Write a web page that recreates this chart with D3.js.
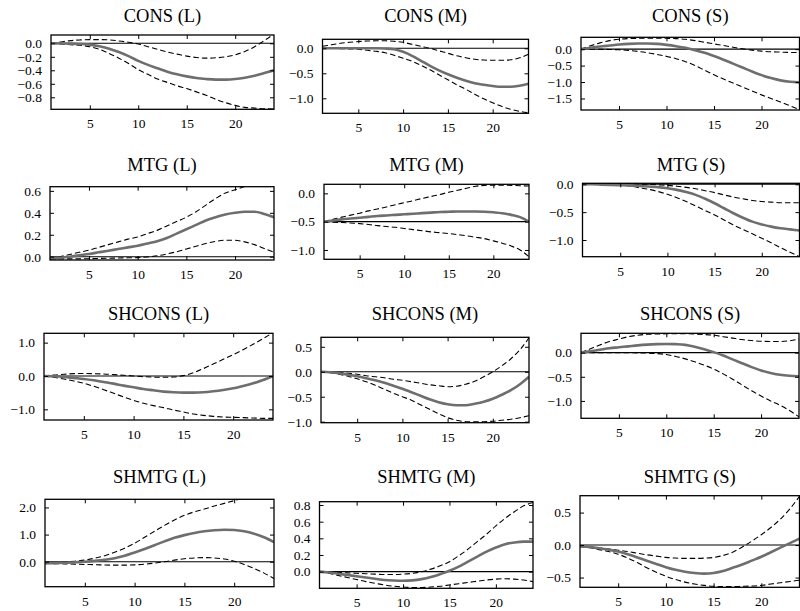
<!DOCTYPE html>
<html><head><meta charset="utf-8">
<script src="https://cdn.jsdelivr.net/npm/d3@7/dist/d3.min.js"></script>
<style>body{margin:0;background:#fff}svg{display:block}</style>
</head><body>
<svg id="c" width="800" height="611"></svg>
<script>
// ---------- data ----------
const horizon = d3.range(1, 25);            // 1..24
const xTickValues = [5, 10, 15, 20];
const titles = ["CONS (L)","CONS (M)","CONS (S)","MTG (L)","MTG (M)","MTG (S)",
                "SHCONS (L)","SHCONS (M)","SHCONS (S)","SHMTG (L)","SHMTG (M)","SHMTG (S)"];

const medConsL = [0,-0.002,-0.005,-0.01,-0.02,-0.045,-0.08,-0.13,-0.19,-0.26,-0.32,-0.37,-0.42,-0.46,-0.49,-0.515,-0.53,-0.538,-0.538,-0.53,-0.51,-0.48,-0.44,-0.40];
const hiConsL  = [0,0.02,0.04,0.05,0.055,0.055,0.05,0.035,0.015,-0.01,-0.05,-0.09,-0.13,-0.16,-0.19,-0.21,-0.22,-0.215,-0.2,-0.17,-0.12,-0.05,0.04,0.14];
const loConsL  = [0,-0.01,-0.02,-0.03,-0.05,-0.09,-0.15,-0.22,-0.30,-0.39,-0.46,-0.53,-0.58,-0.63,-0.67,-0.72,-0.77,-0.83,-0.88,-0.92,-0.95,-0.96,-0.97,-0.975];

const medConsM = [0,0,0,0,0,0,0,-0.005,-0.02,-0.07,-0.15,-0.25,-0.35,-0.44,-0.52,-0.59,-0.65,-0.70,-0.73,-0.755,-0.77,-0.77,-0.75,-0.71];
const hiConsM  = [0.04,0.07,0.1,0.12,0.135,0.145,0.15,0.15,0.14,0.12,0.08,0.04,0.0,-0.05,-0.10,-0.15,-0.19,-0.22,-0.235,-0.24,-0.24,-0.23,-0.19,-0.12];
const loConsM  = [0,-0.003,-0.007,-0.012,-0.02,-0.04,-0.06,-0.09,-0.14,-0.2,-0.26,-0.34,-0.43,-0.53,-0.63,-0.73,-0.82,-0.92,-1.01,-1.09,-1.16,-1.22,-1.26,-1.29];

const medConsS = [0,0.04,0.08,0.11,0.14,0.16,0.17,0.17,0.16,0.13,0.09,0.04,-0.03,-0.11,-0.21,-0.32,-0.44,-0.56,-0.68,-0.79,-0.88,-0.95,-0.99,-1.01];
const hiConsS  = [0,0.1,0.19,0.26,0.3,0.32,0.33,0.335,0.335,0.33,0.32,0.3,0.26,0.21,0.16,0.11,0.06,0.01,-0.03,-0.06,-0.08,-0.09,-0.1,-0.1];
const loConsS  = [0,0,-0.005,-0.01,-0.02,-0.04,-0.07,-0.11,-0.16,-0.22,-0.29,-0.38,-0.5,-0.64,-0.78,-0.91,-1.03,-1.15,-1.27,-1.39,-1.5,-1.61,-1.72,-1.84];

const medMtgL = [-0.02,-0.01,0.0,0.012,0.025,0.04,0.055,0.07,0.085,0.1,0.12,0.14,0.17,0.21,0.25,0.29,0.33,0.36,0.385,0.40,0.41,0.41,0.39,0.36];
const hiMtgL  = [-0.02,0.0,0.02,0.04,0.06,0.085,0.11,0.135,0.16,0.18,0.21,0.24,0.28,0.32,0.36,0.41,0.47,0.53,0.58,0.61,0.64,0.66,0.67,0.67];
const loMtgL  = [-0.02,-0.02,-0.02,-0.02,-0.018,-0.016,-0.014,-0.012,-0.01,-0.008,-0.002,0.008,0.025,0.045,0.07,0.095,0.12,0.14,0.15,0.15,0.135,0.11,0.075,0.04];

const medMtgM = [-0.5,-0.48,-0.46,-0.445,-0.43,-0.415,-0.40,-0.39,-0.38,-0.37,-0.36,-0.35,-0.34,-0.33,-0.325,-0.32,-0.32,-0.32,-0.325,-0.335,-0.35,-0.38,-0.42,-0.5];
const hiMtgM  = [-0.5,-0.46,-0.42,-0.385,-0.35,-0.31,-0.275,-0.24,-0.2,-0.165,-0.13,-0.09,-0.055,-0.02,0.02,0.055,0.09,0.125,0.14,0.145,0.145,0.14,0.135,0.13];
const loMtgM  = [-0.5,-0.51,-0.515,-0.525,-0.535,-0.55,-0.57,-0.585,-0.6,-0.62,-0.64,-0.66,-0.68,-0.695,-0.71,-0.73,-0.75,-0.775,-0.8,-0.84,-0.88,-0.93,-1.0,-1.12];

const medMtgS = [0,0,-0.005,-0.01,-0.015,-0.02,-0.03,-0.04,-0.05,-0.07,-0.1,-0.14,-0.19,-0.26,-0.34,-0.43,-0.52,-0.6,-0.67,-0.72,-0.76,-0.79,-0.81,-0.83];
const hiMtgS  = [0,0.01,0.01,0.01,0.01,0.01,0.005,0.0,-0.01,-0.02,-0.035,-0.055,-0.08,-0.115,-0.15,-0.19,-0.23,-0.26,-0.29,-0.31,-0.32,-0.33,-0.33,-0.33];
const loMtgS  = [0,-0.002,-0.005,-0.008,-0.012,-0.03,-0.06,-0.09,-0.13,-0.18,-0.24,-0.31,-0.39,-0.47,-0.55,-0.64,-0.73,-0.81,-0.89,-0.97,-1.05,-1.14,-1.22,-1.3];

const medShconsL = [0,-0.01,-0.03,-0.06,-0.09,-0.13,-0.18,-0.23,-0.29,-0.34,-0.39,-0.43,-0.47,-0.49,-0.5,-0.5,-0.49,-0.46,-0.42,-0.37,-0.3,-0.22,-0.12,0.0];
const hiShconsL  = [0,0.03,0.05,0.07,0.075,0.07,0.06,0.04,0.02,0.0,-0.02,-0.035,-0.04,-0.03,0.01,0.1,0.22,0.36,0.5,0.64,0.79,0.95,1.12,1.3];
const loShconsL  = [0,-0.04,-0.09,-0.15,-0.22,-0.31,-0.41,-0.52,-0.63,-0.73,-0.82,-0.89,-0.95,-1.02,-1.08,-1.14,-1.18,-1.21,-1.23,-1.24,-1.25,-1.26,-1.27,-1.27];

const medShconsM = [0,-0.01,-0.03,-0.06,-0.09,-0.13,-0.17,-0.22,-0.28,-0.34,-0.41,-0.48,-0.55,-0.61,-0.65,-0.67,-0.67,-0.64,-0.6,-0.54,-0.46,-0.37,-0.25,-0.1];
const hiShconsM  = [0,-0.005,-0.015,-0.03,-0.05,-0.08,-0.1,-0.12,-0.15,-0.17,-0.2,-0.23,-0.26,-0.28,-0.3,-0.29,-0.25,-0.19,-0.1,0.0,0.12,0.26,0.44,0.68];
const loShconsM  = [0,-0.02,-0.05,-0.09,-0.14,-0.2,-0.27,-0.35,-0.43,-0.5,-0.57,-0.66,-0.75,-0.84,-0.92,-0.97,-1.0,-1.0,-1.0,-0.99,-0.97,-0.95,-0.92,-0.88];

const medShconsS = [0,0.03,0.06,0.09,0.11,0.13,0.15,0.165,0.175,0.18,0.175,0.16,0.12,0.07,0.01,-0.06,-0.14,-0.22,-0.3,-0.37,-0.42,-0.46,-0.48,-0.49];
const hiShconsS  = [0,0.08,0.16,0.23,0.28,0.33,0.36,0.38,0.385,0.39,0.39,0.39,0.385,0.375,0.36,0.33,0.3,0.27,0.25,0.235,0.23,0.23,0.245,0.28];
const loShconsS  = [0,0,0,0,0,-0.002,-0.005,-0.01,-0.02,-0.04,-0.08,-0.13,-0.19,-0.26,-0.34,-0.44,-0.55,-0.67,-0.79,-0.9,-1.0,-1.09,-1.2,-1.33];

const medShmtgL = [-0.06,-0.05,-0.04,-0.02,0.0,0.03,0.07,0.13,0.22,0.34,0.47,0.61,0.75,0.88,0.98,1.06,1.12,1.16,1.18,1.17,1.12,1.03,0.9,0.72];
const hiShmtgL  = [-0.06,-0.04,-0.01,0.02,0.06,0.13,0.22,0.35,0.5,0.68,0.9,1.12,1.34,1.54,1.71,1.84,1.94,2.05,2.15,2.25,2.35,2.45,2.55,2.65];
const loShmtgL  = [-0.06,-0.07,-0.08,-0.09,-0.1,-0.11,-0.12,-0.125,-0.125,-0.115,-0.09,-0.05,0.0,0.06,0.11,0.14,0.15,0.14,0.1,0.02,-0.1,-0.25,-0.42,-0.62];

const medShmtgM = [0,-0.01,-0.025,-0.04,-0.055,-0.07,-0.085,-0.1,-0.107,-0.11,-0.105,-0.09,-0.065,-0.03,0.01,0.06,0.12,0.18,0.24,0.29,0.33,0.35,0.36,0.36];
const hiShmtgM  = [0,-0.005,-0.01,-0.015,-0.02,-0.025,-0.03,-0.035,-0.035,-0.03,-0.02,0.0,0.03,0.07,0.12,0.19,0.27,0.36,0.45,0.55,0.64,0.72,0.79,0.83];
const loShmtgM  = [0,-0.02,-0.045,-0.07,-0.095,-0.12,-0.14,-0.16,-0.175,-0.185,-0.19,-0.19,-0.185,-0.175,-0.16,-0.145,-0.13,-0.115,-0.1,-0.09,-0.085,-0.09,-0.1,-0.12];

const medShmtgS = [-0.02,-0.03,-0.05,-0.07,-0.1,-0.14,-0.19,-0.24,-0.29,-0.34,-0.38,-0.41,-0.43,-0.44,-0.43,-0.4,-0.35,-0.3,-0.24,-0.18,-0.11,-0.04,0.03,0.1];
const hiShmtgS  = [-0.02,-0.03,-0.045,-0.06,-0.08,-0.1,-0.125,-0.15,-0.17,-0.19,-0.2,-0.205,-0.205,-0.2,-0.19,-0.16,-0.11,-0.03,0.06,0.16,0.27,0.4,0.56,0.75];
const loShmtgS  = [-0.02,-0.04,-0.07,-0.1,-0.14,-0.2,-0.27,-0.35,-0.42,-0.48,-0.53,-0.57,-0.6,-0.62,-0.635,-0.64,-0.64,-0.635,-0.63,-0.62,-0.6,-0.58,-0.56,-0.54];

const yTicks = [[0,-0.2,-0.4,-0.6,-0.8],[0,-0.5,-1],[0,-0.5,-1,-1.5],
                [0,0.2,0.4,0.6],[0,-0.5,-1],[0,-0.5,-1],
                [1,0,-1],[0.5,0,-0.5,-1],[0,-0.5,-1],
                [2,1,0],[0.8,0.6,0.4,0.2,0],[0.5,0,-0.5]];
const refValues = [0,0,0, 0,-0.5,0, 0,0,0, 0,0,0];

// ---------- layout (positions / scale domains) ----------
const boxes = [[51,274,35,109.3],[322.5,528.5,39.3,113.3],[581,799.5,37.3,110],
               [50,274,186.7,260],[324,529,184.3,259.3],[582.5,799.5,183.3,256.7],
               [44,273,333.3,420],[321,529,337.3,422.7],[581,799,333.3,418.3],
               [45,274,499.3,586.7],[319.5,533,501.7,588.3],[580,799.5,495.7,587.3]];
const yDomains = [[-0.978,0.123],[-1.3,0.18],[-1.85,0.36],
                  [-0.03,0.638],[-1.165,0.16],[-1.30,0.018],
                  [-1.32,1.28],[-1.02,0.69],[-1.36,0.40],
                  [-0.92,2.3],[-0.2,0.84],[-0.65,0.76]];
const titleY = [16,16,16,165,165,165,314,314,314,477,477,477];

const series = [
  [medConsL,hiConsL,loConsL],[medConsM,hiConsM,loConsM],[medConsS,hiConsS,loConsS],
  [medMtgL,hiMtgL,loMtgL],[medMtgM,hiMtgM,loMtgM],[medMtgS,hiMtgS,loMtgS],
  [medShconsL,hiShconsL,loShconsL],[medShconsM,hiShconsM,loShconsM],[medShconsS,hiShconsS,loShconsS],
  [medShmtgL,hiShmtgL,loShmtgL],[medShmtgM,hiShmtgM,loShmtgM],[medShmtgS,hiShmtgS,loShmtgS]
];

const FONT = "'Liberation Serif', 'Times New Roman', serif";
const svg = d3.select("#c");
const defs = svg.append("defs");
const fmt = d3.format(".1f");

titles.forEach((title, i) => {
  const [x0, x1, y0, y1] = boxes[i];
  const x = d3.scaleLinear().domain([1, 24]).range([x0, x1]);
  const y = d3.scaleLinear().domain(yDomains[i]).range([y1, y0]);
  const g = svg.append("g");

  defs.append("clipPath").attr("id", "cp" + i)
    .append("rect").attr("x", x0).attr("y", y0).attr("width", x1 - x0).attr("height", y1 - y0);

  const plot = g.append("g").attr("clip-path", `url(#cp${i})`);
  const line = d3.line().x((d, j) => x(horizon[j])).y(d => y(d)).curve(d3.curveMonotoneX);

  plot.append("line")
    .attr("x1", x0).attr("x2", x1).attr("y1", y(refValues[i])).attr("y2", y(refValues[i]))
    .attr("stroke", "#000").attr("stroke-width", 1.1);

  const [med, hi, lo] = series[i];
  [hi, lo].forEach(s => plot.append("path").datum(s).attr("d", line)
    .attr("fill", "none").attr("stroke", "#000").attr("stroke-width", 1.1)
    .attr("stroke-dasharray", "5.5,3"));
  plot.append("path").datum(med).attr("d", line)
    .attr("fill", "none").attr("stroke", "#6e6e6e").attr("stroke-width", 2.6);

  const styleAxis = sel => {
    sel.attr("font-family", FONT).attr("font-size", 13.5);
    sel.select(".domain").remove();
    sel.selectAll(".tick line").attr("stroke", "#000").attr("stroke-width", 1);
    sel.selectAll(".tick text").attr("font-family", FONT).attr("font-size", 13.5).attr("fill", "#000");
  };
  g.append("g").attr("transform", `translate(0,${y1})`)
    .call(d3.axisBottom(x).tickValues(xTickValues).tickSize(-4).tickPadding(9.5).tickFormat(d3.format("d")))
    .call(styleAxis);
  g.append("g").attr("transform", `translate(0,${y0})`)
    .call(d3.axisTop(x).tickValues(xTickValues).tickSize(-4).tickFormat(""))
    .call(styleAxis);
  g.append("g").attr("transform", `translate(${x0},0)`)
    .call(d3.axisLeft(y).tickValues(yTicks[i]).tickSize(-4).tickPadding(9).tickFormat(fmt))
    .call(styleAxis);
  g.append("g").attr("transform", `translate(${x1},0)`)
    .call(d3.axisRight(y).tickValues(yTicks[i]).tickSize(-4).tickFormat(""))
    .call(styleAxis);

  g.append("rect").attr("x", x0).attr("y", y0).attr("width", x1 - x0).attr("height", y1 - y0)
    .attr("fill", "none").attr("stroke", "#000").attr("stroke-width", 1.3);

  g.append("text").attr("x", (x0 + x1) / 2).attr("y", titleY[i]).attr("dy", "0.35em")
    .attr("text-anchor", "middle").attr("font-family", FONT).attr("font-size", 18.5)
    .attr("fill", "#000").text(title);
});
</script>
</body></html>
